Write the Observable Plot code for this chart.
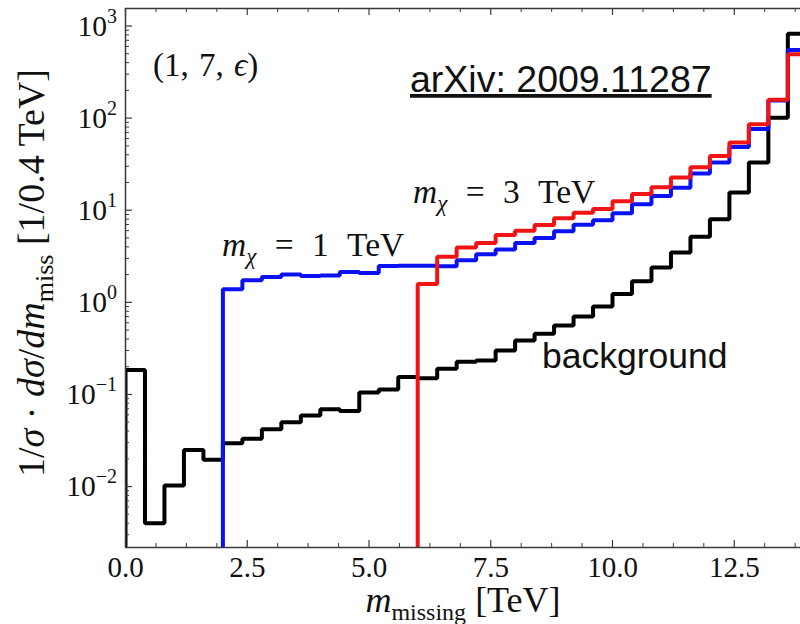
<!DOCTYPE html>
<html><head><meta charset="utf-8">
<script src="https://cdn.jsdelivr.net/npm/d3@7"></script>
<script src="https://cdn.jsdelivr.net/npm/@observablehq/plot@0.6"></script>
<style>
body{margin:0;background:#fff}
#chart{position:relative;width:800px;height:624px;overflow:hidden}
</style>
</head><body><div id="chart"></div>
<script>
// ---- data (bin width 0.4 TeV) ----
const binWidth = 0.4;
const bgStart = 0.0;
const background = [0.184, 0.0040, 0.0103, 0.025, 0.0195, 0.0295, 0.033, 0.042, 0.050, 0.059,
  0.069, 0.066, 0.105, 0.113, 0.155, 0.150, 0.19, 0.227, 0.233, 0.30,
  0.385, 0.455, 0.56, 0.70, 0.90, 1.23, 1.69, 2.39, 3.48, 5.14,
  8.0, 15.6, 33, 101, 826];
const mx1Start = 2.0;
const mx1 = [1.39, 1.74, 1.88, 2.0, 1.93, 1.96, 2.14, 2.08, 2.48, 2.5,
  2.49, 2.46, 2.86, 3.32, 3.75, 4.4, 5.0, 5.9, 6.95, 7.8,
  9.3, 11.6, 14.3, 17.5, 25, 33, 48.7, 76, 155, 550];
const mx3Start = 6.0;
const mx3 = [1.58, 3.12, 3.94, 4.4, 5.4, 6.0, 6.9, 8.2, 9.4, 10.3,
  12.5, 15.0, 17.8, 22.6, 29.2, 38.9, 54.3, 86, 158, 493];
const xTicks = [0, 2.5, 5, 7.5, 10, 12.5];
const xMinorStep = 0.625;
const yTicks = [1e-2, 1e-1, 1e0, 1e1, 1e2, 1e3];
const yExponents = ["\u22122", "\u22121", "0", "1", "2", "3"];
const xDomain = [0, 13.86];
const yDomain = [0.00218, 1549];

// ---- build step outlines ----
function steps(start, vals) {
  const pts = [{x: start, y: yDomain[0]}];
  vals.forEach((v, i) => pts.push({x: start + i * binWidth, y: v}));
  const end = start + vals.length * binWidth;
  pts.push({x: end, y: vals[vals.length - 1]});
  pts.push({x: end, y: yDomain[0]});
  return pts;
}
const bgPts = steps(bgStart, background);
const m1Pts = steps(mx1Start, mx1);
const m3Pts = steps(mx3Start, mx3);

const xMinor = d3.range(0, xDomain[1], xMinorStep).filter(v => !xTicks.some(t => Math.abs(t - v) < 1e-9));
const yMinor = [];
for (let e = -3; e <= 3; e++) for (let m = 2; m <= 9; m++) {
  const v = m * Math.pow(10, e);
  if (v > yDomain[0] && v < yDomain[1]) yMinor.push(v);
}

const W = 800, H = 624, mL = 125, mR = 0, mT = 8, mB = 77;
const pw = W - mL - mR, ph = H - mT - mB;
const frameColor = "#3a3a3a";
const lineStyle = {x: "x", y: "y", curve: "step-after", strokeWidth: 4, strokeLinejoin: "miter", strokeLinecap: "butt", clip: true};

const plot = Plot.plot({
  width: W, height: H,
  marginLeft: mL, marginRight: mR, marginTop: mT, marginBottom: mB,
  style: {fontFamily: "Liberation Serif", background: "#fff", overflow: "visible"},
  x: {domain: xDomain, axis: null},
  y: {type: "log", domain: yDomain, axis: null},
  marks: [
    Plot.line(bgPts, {...lineStyle, stroke: "#000"}),
    Plot.line(m1Pts, {...lineStyle, stroke: "#0a12f2"}),
    Plot.line(m3Pts, {...lineStyle, stroke: "#f01414"}),
    // frame
    Plot.ruleY([yDomain[0]], {stroke: frameColor, strokeWidth: 1.5}),
    Plot.ruleY([yDomain[1]], {stroke: frameColor, strokeWidth: 1.5}),
    Plot.ruleX([xDomain[0]], {stroke: frameColor, strokeWidth: 1.5}),
    // inward ticks: bottom & top
    Plot.tickX(xTicks, {x: d => d, insetTop: ph - 7, stroke: frameColor, strokeWidth: 1.2}),
    Plot.tickX(xMinor, {x: d => d, insetTop: ph - 4, stroke: frameColor, strokeWidth: 1}),
    Plot.tickX(xTicks, {x: d => d, insetBottom: ph - 7, stroke: frameColor, strokeWidth: 1.2}),
    Plot.tickX(xMinor, {x: d => d, insetBottom: ph - 4, stroke: frameColor, strokeWidth: 1}),
    // left ticks
    Plot.tickY(yTicks, {y: d => d, insetRight: pw - 7, stroke: frameColor, strokeWidth: 1.2}),
    Plot.tickY(yMinor, {y: d => d, insetRight: pw - 4, stroke: frameColor, strokeWidth: 1}),
    // x tick labels
    Plot.axisX({ticks: xTicks, tickSize: 0, tickPadding: 9, fontSize: 29, tickFormat: d => d.toFixed(1), label: null, fill: "#111"})
  ]
});
document.getElementById("chart").appendChild(plot);

// ---- rich text (tick exponents, axis labels, annotations) ----
const svg = d3.select(plot);
const ys = plot.scale("y");
const serif = "Liberation Serif";
yTicks.forEach((v, i) => {
  const y = ys.apply(v) + 10;
  const t = svg.append("text").attr("x", 117).attr("y", y).attr("text-anchor", "end")
    .attr("font-family", serif).attr("font-size", 29.5).attr("fill", "#111");
  t.append("tspan").text("10");
  t.append("tspan").attr("dy", -13).attr("font-size", 20).text(yExponents[i]);
});

function rich(parent, x, y, parts, opts = {}) {
  const t = parent.append("text").attr("x", x).attr("y", y)
    .attr("font-family", opts.family || serif).attr("font-size", opts.size || 32)
    .attr("fill", "#111").attr("text-anchor", opts.anchor || "start");
  if (opts.transform) t.attr("transform", opts.transform);
  if (opts.wordSpacing) t.attr("word-spacing", opts.wordSpacing);
  let shift = 0;
  parts.forEach(p => {
    const s = t.append("tspan").text(p.t);
    if (p.i) s.attr("font-style", "italic");
    const target = p.sub || 0;
    if (target !== shift) { s.attr("dy", target - shift); shift = target; }
    if (p.fs) s.attr("font-size", p.fs);
  });
  return t;
}

// annotations
rich(svg, 153, 76, [{t: "(1, 7, "}, {t: "\u03f5", i: 1}, {t: ")"}], {size: 33, wordSpacing: 2});
svg.append("text").attr("x", 410).attr("y", 92).attr("text-anchor", "start").attr("font-family", "Liberation Sans")
  .attr("font-size", 37.5).attr("fill", "#111").style("text-decoration", "underline").text("arXiv: 2009.11287");
rich(svg, 222, 256, [{t: "m", i: 1}, {t: "\u03c7", i: 1, sub: 8, fs: 23}, {t: " = 1 TeV", sub: 0}], {size: 33.5, wordSpacing: 10});
rich(svg, 413, 203, [{t: "m", i: 1}, {t: "\u03c7", i: 1, sub: 8, fs: 23}, {t: " = 3 TeV", sub: 0}], {size: 33.5, wordSpacing: 10});
svg.append("text").attr("x", 542).attr("y", 368).attr("text-anchor", "start").attr("font-family", "Liberation Sans")
  .attr("font-size", 35.5).attr("fill", "#111").text("background");

// axis titles
rich(svg, 463, 612, [{t: "m", i: 1}, {t: "missing", sub: 8, fs: 24}, {t: " [TeV]", sub: 0}], {size: 36, anchor: "middle"});
rich(svg, 0, 0, [
  {t: "1/"}, {t: "\u03c3", i: 1}, {t: " \u00b7 "}, {t: "d\u03c3", i: 1}, {t: "/"}, {t: "dm", i: 1},
  {t: "miss", sub: 9, fs: 26}, {t: " [1/0.4 TeV]", sub: 0}
], {size: 38, anchor: "middle", transform: "translate(44,273) rotate(-90)"});
</script>
</body></html>
